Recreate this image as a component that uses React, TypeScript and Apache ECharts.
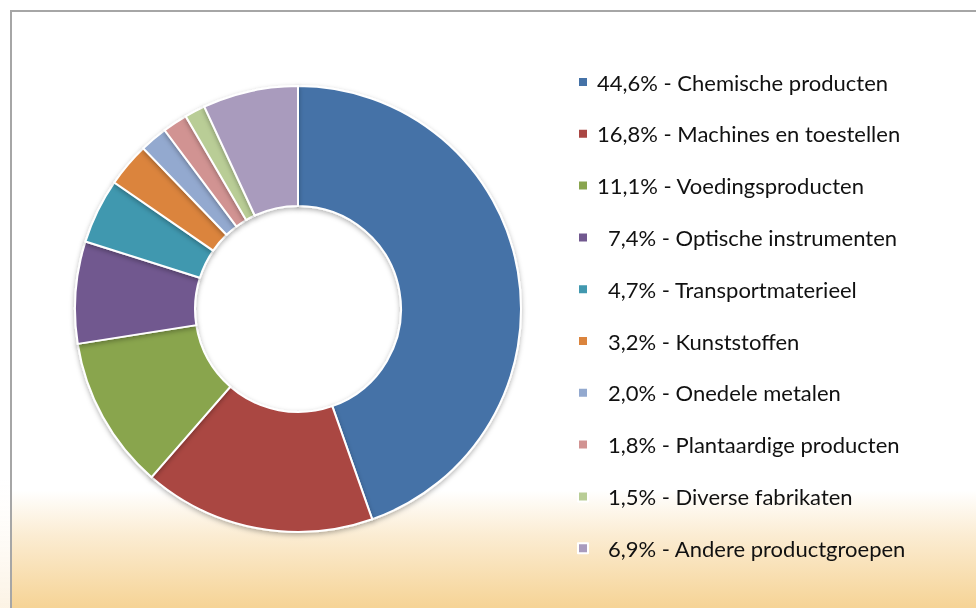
import React, { useEffect, useRef } from "react";
import * as echarts from "echarts";

const categories = [
  "Chemische producten",
  "Machines en toestellen",
  "Voedingsproducten",
  "Optische instrumenten",
  "Transportmaterieel",
  "Kunststoffen",
  "Onedele metalen",
  "Plantaardige producten",
  "Diverse fabrikaten",
  "Andere productgroepen",
];
const values = [44.6, 16.8, 11.1, 7.4, 4.7, 3.2, 2.0, 1.8, 1.5, 6.9];
const colors = [
  "#4572a7",
  "#aa4643",
  "#89a54e",
  "#71588f",
  "#4198af",
  "#db843d",
  "#93a9cf",
  "#d19392",
  "#b9cd96",
  "#a99bbd",
];

const fmt = (v: number) => v.toFixed(1).replace(".", ",") + "%";

export default function App() {
  const ref = useRef<HTMLDivElement>(null);
  useEffect(() => {
    if (!ref.current) return;
    const chart = echarts.init(ref.current, undefined, { renderer: "svg" });
    const labelOf: Record<string, number> = {};
    categories.forEach((c, i) => (labelOf[c] = values[i]));
    const txt = { fontFamily: "Lato", fontSize: 22, lineHeight: 22, color: "#111111" };
    chart.setOption({
      animation: false,
      graphic: [
        {
          type: "rect",
          z: 0,
          shape: { x: 0, y: 480, width: 10, height: 128 },
          style: {
            fill: new echarts.graphic.LinearGradient(0, 0, 0, 1, [
              { offset: 0, color: "rgba(253,246,236,0)" },
              { offset: 1, color: "rgba(250,235,210,0.6)" },
            ]),
          },
        },
        {
          type: "rect",
          z: 0,
          shape: { x: 11, y: 11, width: 1000, height: 700 },
          style: {
            fill: new echarts.graphic.LinearGradient(0, 0, 0, 1, [
              { offset: 0, color: "#ffffff" },
              { offset: 0.685, color: "#ffffff" },
              { offset: 0.75, color: "#fbecd2" },
              { offset: 0.85, color: "#f6d497" },
              { offset: 1, color: "#f4cb7f" },
            ]),
            stroke: "#a6a6a6",
            lineWidth: 2,
          },
        },
      ],
      legend: {
        orient: "vertical",
        left: 572,
        top: 66,
        itemWidth: 10,
        itemHeight: 10,
        itemGap: 29.8,
        icon: "rect",
        selectedMode: false,
        data: categories,
        textStyle: {
          ...txt,
          rich: {
            a: { ...txt, padding: [0, 0, 0, 4] },
            b: { ...txt, padding: [0, 0, 0, 15] },
          },
        },
        formatter: (name: string) => {
          const v = labelOf[name];
          const key = v >= 10 ? "a" : "b";
          return `{${key}|${fmt(v)} - ${name}}`;
        },
      },
      series: [
        {
          type: "pie",
          center: [298, 309],
          radius: [103, 223],
          startAngle: 90,
          clockwise: true,
          label: { show: false },
          labelLine: { show: false },
          emphasis: { disabled: true },
          itemStyle: {
            borderColor: "#ffffff",
            borderWidth: 2,
            shadowBlur: 5,
            shadowColor: "rgba(0,0,0,0.3)",
            shadowOffsetY: 2,
          },
          data: categories.map((c, i) => ({
            name: c,
            value: values[i],
            itemStyle: { color: colors[i] },
          })),
        },
      ],
    });
    return () => chart.dispose();
  }, []);
  return (
    <div
      ref={ref}
      style={{ position: "fixed", left: 0, top: 0, width: 976, height: 608 }}
    />
  );
}
